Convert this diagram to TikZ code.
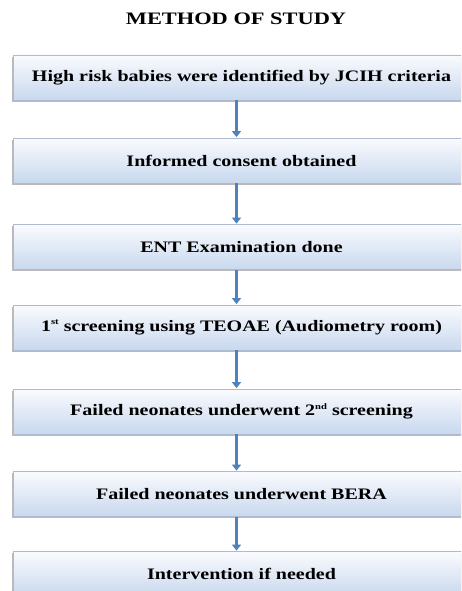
\documentclass[tikz,border=0pt]{standalone}
\usepackage{fontspec}
\setmainfont{Liberation Serif}
\usetikzlibrary{arrows.meta,shadows}
\definecolor{arrowblue}{RGB}{79,129,189}
\definecolor{boxtop}{RGB}{250,251,254}
\definecolor{boxbot}{RGB}{200,216,238}
\definecolor{boxline}{RGB}{175,188,208}
\tikzset{
  stepbox/.style={draw=boxline, line width=0.8pt, top color=boxtop, bottom color=boxbot,
    minimum width=457pt, minimum height=45pt, inner sep=0pt,
    drop shadow={shadow xshift=-0.8pt, shadow yshift=-1.6pt, fill=black!45, opacity=0.6},
    font=\bfseries\fontsize{16}{19}\selectfont},
  flowarrow/.style={draw=arrowblue, line width=3pt, -{Triangle[width=9pt,length=6pt]}, shorten >=0.5pt},
  titletext/.style={font=\bfseries\fontsize{17.5}{20}\selectfont, inner sep=0pt, anchor=base}
}
\newcommand{\wide}[1]{\scalebox{1.25}[1]{#1}}
\newcommand{\supr}[1]{\raisebox{0.9ex}{\fontsize{8.5}{9}\selectfont #1}}
\begin{document}
\begin{tikzpicture}[x=1pt,y=-1pt]
\useasboundingbox (0,0) rectangle (461,591);
\clip (0,0) rectangle (461,591);
\fill[white] (0,0) rectangle (461,591);
\node[titletext] (title) at (236,25) {\scalebox{1.28}[1]{METHOD OF STUDY}};
\node[stepbox] (b1) at (241.5,77.5) {\wide{High risk babies were identified by JCIH criteria}};
\node[stepbox] (b2) at (241.5,160.5) {\wide{Informed consent obtained}};
\node[stepbox] (b3) at (241.5,247) {\wide{ENT Examination done}};
\node[stepbox] (b4) at (241.5,327.5) {\wide{1\supr{st} screening using TEOAE (Audiometry room)}};
\node[stepbox] (b5) at (241.5,411.5) {\wide{Failed neonates underwent 2\supr{nd} screening}};
\node[stepbox] (b6) at (241.5,494) {\wide{Failed neonates underwent BERA}};
\node[stepbox] (b7) at (241.5,574) {\wide{Intervention if needed}};
\coordinate (ax) at (236.5,0);
\foreach \a/\b in {b1/b2,b2/b3,b3/b4,b4/b5,b5/b6,b6/b7}{
  \draw[flowarrow] (\a.south -| ax) -- (\b.north -| ax);
}
\end{tikzpicture}
\end{document}
